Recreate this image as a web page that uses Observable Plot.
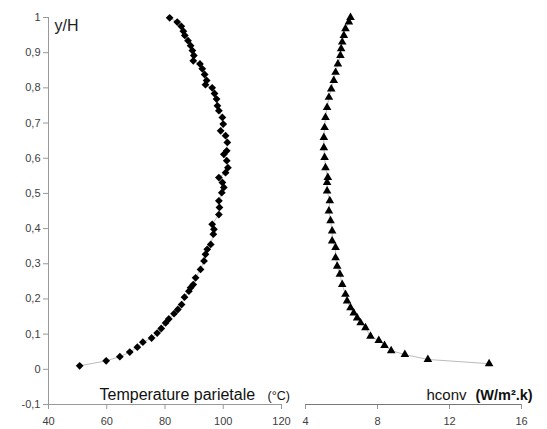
<!DOCTYPE html>
<html>
<head>
<meta charset="utf-8">
<script src="https://cdn.jsdelivr.net/npm/d3@7"></script>
<script src="https://cdn.jsdelivr.net/npm/@observablehq/plot@0.6"></script>
<style>
  html, body { margin: 0; padding: 0; background: #fff; }
  #chart { position: relative; width: 547px; height: 429px; overflow: hidden; }
  #chart svg { position: absolute; left: 0; top: 0; }
</style>
</head>
<body>
<div id="chart"></div>
<script>
// y/H positions (shared by both series)
const tempY = [0.010,0.024,0.036,0.049,0.063,0.077,0.089,0.103,0.116,0.132,0.143,0.158,0.170,0.184,0.205,0.222,0.232,0.241,0.260,0.284,0.308,0.327,0.341,0.355,0.384,0.398,0.412,0.440,0.460,0.479,0.502,0.517,0.531,0.545,0.559,0.573,0.593,0.611,0.621,0.645,0.664,0.678,0.697,0.716,0.735,0.749,0.768,0.784,0.800,0.809,0.821,0.838,0.854,0.868,0.877,0.892,0.906,0.920,0.934,0.949,0.961,0.975,0.987,0.999];
// Temperature parietale (°C)
const tempT = [50.7,59.8,64.5,67.9,70.5,72.4,75.4,77.3,78.7,80.2,81.3,83.1,84.4,85.7,86.7,88.2,88.8,89.7,90.5,92.2,93.4,93.9,94.5,95.7,96.6,96.8,96.2,98.5,98.7,98.5,99.5,100.2,99.7,98.5,100.8,101.6,101.2,100.2,101.2,101.4,100.8,99.1,100.0,99.7,98.5,98.0,97.7,97.0,96.2,93.9,94.3,93.6,92.8,92.0,89.7,89.9,89.4,88.8,87.9,86.8,86.3,85.6,84.2,81.6];

const hY = [0.016,0.028,0.042,0.053,0.068,0.082,0.094,0.118,0.132,0.146,0.160,0.175,0.194,0.213,0.241,0.270,0.293,0.317,0.346,0.365,0.393,0.422,0.450,0.479,0.507,0.531,0.545,0.573,0.602,0.630,0.659,0.687,0.716,0.744,0.773,0.797,0.821,0.844,0.868,0.892,0.911,0.930,0.949,0.968,0.987,1.000];
// hconv (W/m².k)
const hV = [14.2,10.8,9.52,8.76,8.39,8.07,7.61,7.33,7.06,6.87,6.68,6.50,6.31,6.22,6.04,5.91,5.76,5.67,5.67,5.48,5.48,5.39,5.30,5.35,5.20,5.20,5.24,5.11,5.06,5.02,5.02,5.06,5.11,5.20,5.30,5.43,5.57,5.67,5.80,5.94,5.98,6.04,6.13,6.22,6.41,6.50];

const yTicks = [-0.1,0,0.1,0.2,0.3,0.4,0.5,0.6,0.7,0.8,0.9,1];
const tTicks = [40,60,80,100,120];
const hTicks = [4,8,12,16];
const labels = {y: "y/H", t: "Temperature parietale", tUnit: "(°C)", h: "hconv", hUnit: "(W/m².k)"};

const temp = tempY.map((y, i) => ({y, v: tempT[i]}));
const hconv = hY.map((y, i) => ({y, v: hV[i]}));

const W = 547, H = 429;
const common = {
  width: W, height: H, marginTop: 17, marginBottom: 25,
  style: {background: "transparent", fontFamily: "Liberation Sans, Arial, sans-serif", overflow: "visible"}
};
const fmt = d => String(d).replace(".", ",");

const left = Plot.plot({
  ...common,
  marginLeft: 48, marginRight: 266,
  x: {domain: [40, 120]},
  y: {domain: [-0.1, 1]},
  marks: [
    Plot.axisY({ticks: yTicks, tickFormat: fmt, tickSize: 5, tickPadding: 3, label: null, stroke: "#999", fill: "#404040", fontSize: 11}),
    Plot.axisX({ticks: tTicks, tickSize: 5, tickPadding: 8, label: null, stroke: "#999", fill: "#404040", fontSize: 11}),
    Plot.ruleX([40], {stroke: "#999"}),
    Plot.ruleY([-0.1], {stroke: "#999"}),
    Plot.line(temp, {x: "v", y: "y", stroke: "#aaa", strokeWidth: 0.8}),
    Plot.dot(temp, {x: "v", y: "y", symbol: "diamond2", fill: "#000", r: 3.5}),
    Plot.text([labels.y], {frameAnchor: "top-left", dx: 6, dy: 2, textAnchor: "start", lineAnchor: "top", fontSize: 16, fill: "#222", text: d => d}),
    Plot.text([labels.t], {frameAnchor: "bottom-left", dx: 51, dy: -5, textAnchor: "start", lineAnchor: "bottom", fontSize: 16, fill: "#111", text: d => d}),
    Plot.text([labels.tUnit], {frameAnchor: "bottom-left", dx: 219, dy: -5, textAnchor: "start", lineAnchor: "bottom", fontSize: 12.5, fill: "#111", text: d => d})
  ]
});

const right = Plot.plot({
  ...common,
  marginLeft: 305, marginRight: 26,
  x: {domain: [4, 16]},
  y: {domain: [-0.1, 1], axis: null},
  marks: [
    Plot.axisX({ticks: hTicks, tickSize: 5, tickPadding: 8, label: null, stroke: "#999", fill: "#404040", fontSize: 11}),
    Plot.ruleY([-0.1], {stroke: "#777", strokeWidth: 1.2}),
    Plot.line(hconv, {x: "v", y: "y", stroke: "#aaa", strokeWidth: 0.8}),
    Plot.dot(hconv, {x: "v", y: "y", symbol: "triangle", fill: "#000", r: 3.2}),
    Plot.text([labels.h], {frameAnchor: "bottom-left", dx: 121, dy: -5, textAnchor: "start", lineAnchor: "bottom", fontSize: 15, fill: "#111", text: d => d}),
    Plot.text([labels.hUnit], {frameAnchor: "bottom-left", dx: 170, dy: -5, textAnchor: "start", lineAnchor: "bottom", fontSize: 14.5, fontWeight: "bold", fill: "#111", text: d => d})
  ]
});

const c = document.getElementById("chart");
c.appendChild(left);
c.appendChild(right);
</script>
</body>
</html>
